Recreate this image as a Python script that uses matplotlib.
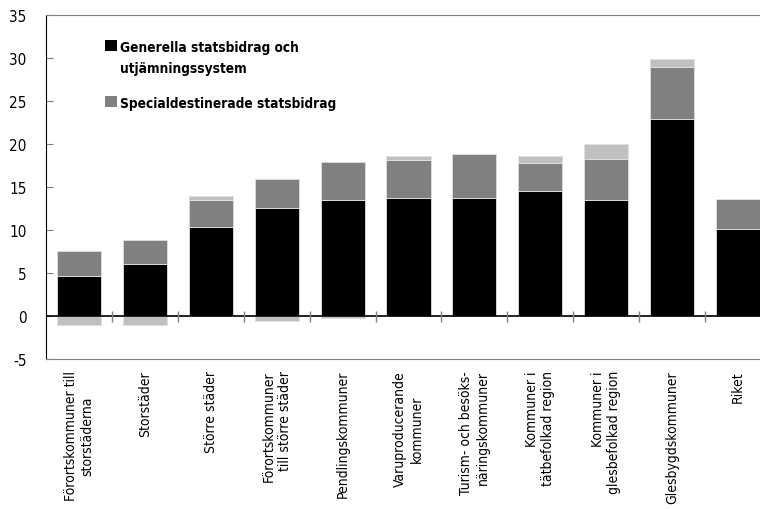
import matplotlib
matplotlib.use("Agg")
import matplotlib.pyplot as plt
from matplotlib.patches import Patch
import numpy as np

plt.rcParams['font.family'] = ['DejaVu Sans']
plt.rcParams['font.stretch'] = 'condensed'
plt.rcParams['axes.unicode_minus'] = False

categories = ["Förortskommuner till\nstorstäderna", "Storstäder", "Större städer",
              "Förortskommuner\ntill större städer", "Pendlingskommuner",
              "Varuproducerande\nkommuner", "Turism- och besöks-\nnäringskommuner",
              "Kommuner i\ntätbefolkad region", "Kommuner i\nglesbefolkad region",
              "Glesbygdskommuner", "Riket"]
label_align = ["center", "center", "center", "right", "center",
               "center", "right", "right", "right", "center", "center"]

generella = [4.65, 6.0, 10.4, 12.6, 13.5, 13.7, 13.7, 14.5, 13.5, 22.9, 10.15]
special = [2.9, 2.8, 3.1, 3.3, 4.4, 4.4, 5.1, 3.3, 4.7, 6.1, 3.45]
ovrigt = [-1.0, -1.0, 0.45, -0.55, -0.25, 0.45, 0.0, 0.85, 1.8, 0.85, 0.0]

x = np.arange(len(categories))
generella = np.array(generella)
special = np.array(special)
ovrigt = np.array(ovrigt)

fig = plt.figure(figsize=(7.6, 5.1), dpi=100)
ax = fig.add_axes([46 / 760, 150 / 510, 725 / 760, 344 / 510])

w = 0.67
edge = dict(edgecolor='#e0e0e0', linewidth=0.6)
ax.bar(x, generella, w, color='black', **edge)
ax.bar(x, special, w, bottom=generella, color='#808080', **edge)
ov_bottom = np.where(ovrigt >= 0, generella + special, 0)
ax.bar(x, ovrigt, w, bottom=ov_bottom, color='#c0c0c0', **edge)

ax.set_xlim(-0.5, len(categories) - 0.5)
ax.set_ylim(-5, 35)
ax.set_yticks(range(-5, 36, 5))
ax.tick_params(axis='y', direction='in', length=5, color='#808080', labelsize=11, pad=14)
ax.set_xticks(x)
ax.set_xticklabels(categories, rotation=90, fontsize=10)
for lab, al in zip(ax.get_xticklabels(), label_align):
    lab.set_multialignment(al)
ax.tick_params(axis='x', length=0, pad=8)

# zero line with category separators
ax.axhline(0, color='black', linewidth=1.2)
ax.vlines(x[:-1] + 0.5, -0.7, 0.6, color='#808080', linewidth=1)

for s in ['top', 'bottom', 'right']:
    ax.spines[s].set_color('#808080')
ax.spines['left'].set_color('black')

handles = [Patch(facecolor='black'), Patch(facecolor='#808080')]
leg = fig.legend(handles, ["Generella statsbidrag och\nutjämningssystem",
                           "Specialdestinerade statsbidrag"],
                 loc='upper left', bbox_to_anchor=(105 / 760, 1 - 41 / 510),
                 frameon=False, borderpad=0, borderaxespad=0,
                 handlelength=0.9, handleheight=0.9,
                 handletextpad=0.2, labelspacing=1.55,
                 prop={'weight': 'bold', 'size': 9.8})
for t in leg.get_texts():
    t.set_linespacing(1.6)
# align the square with the first line of each entry
for col in leg._legend_handle_box.get_children():
    for item in col.get_children():
        item.align = 'top'

plt.savefig('out.png', dpi=100)
